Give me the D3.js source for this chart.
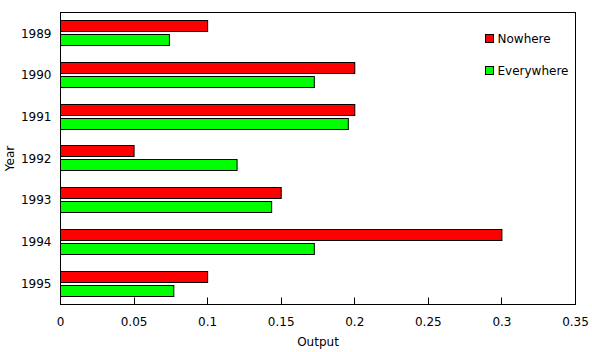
<!DOCTYPE html>
<html>
<head>
<meta charset="utf-8">
<script src="https://cdn.jsdelivr.net/npm/d3@7"></script>
<style>
  body { margin: 0; background: #fff; }
  text { font-family: "DejaVu Sans", sans-serif; fill: #000; }
</style>
</head>
<body>
<div id="chart"></div>
<script>
const years = ["1989", "1990", "1991", "1992", "1993", "1994", "1995"];
const seriesNames = ["Nowhere", "Everywhere"];
const seriesColors = ["#ff0000", "#00ff00"];
const nowhere = [0.1, 0.2, 0.2, 0.05, 0.15, 0.3, 0.1];
const everywhere = [0.074, 0.1725, 0.1956, 0.12, 0.1435, 0.1725, 0.077];
const xTicks = [0, 0.05, 0.1, 0.15, 0.2, 0.25, 0.3, 0.35];

const width = 592, height = 352;
const margin = {top: 12.5, right: 16.5, bottom: 47.5, left: 60.5};
const innerW = width - margin.left - margin.right;
const innerH = height - margin.top - margin.bottom;

const svg = d3.select("#chart").append("svg")
  .attr("width", width)
  .attr("height", height);

const g = svg.append("g")
  .attr("transform", `translate(${margin.left},${margin.top})`);

const x = d3.scaleLinear().domain([0, 0.35]).range([0, innerW]);
const y = d3.scaleBand().domain(years).range([0, innerH]).paddingInner(0.4).paddingOuter(0.2);
const sub = d3.scaleBand().domain(seriesNames).range([0, y.bandwidth()]).paddingInner(0.214);

const rows = years.map((yr, i) => ({year: yr, values: [nowhere[i], everywhere[i]]}));

const groups = g.selectAll(".yr")
  .data(rows)
  .enter().append("g")
  .attr("transform", d => `translate(0,${Math.round(y(d.year))})`);

groups.selectAll("rect")
  .data(d => d.values.map((v, j) => ({name: seriesNames[j], value: v, color: seriesColors[j]})))
  .enter().append("rect")
  .attr("x", x(0))
  .attr("y", d => Math.round(sub(d.name)))
  .attr("width", d => x(d.value) - x(0))
  .attr("height", Math.round(sub.bandwidth()))
  .attr("fill", d => d.color)
  .attr("stroke", "#000")
  .attr("stroke-width", 1);

// frame
g.append("rect")
  .attr("x", 0).attr("y", 0)
  .attr("width", innerW).attr("height", innerH)
  .attr("fill", "none")
  .attr("stroke", "#000")
  .attr("stroke-width", 1);

// x ticks (inward) and labels
g.selectAll(".xtick")
  .data(xTicks)
  .enter().append("line")
  .attr("x1", d => Math.round(x(d)))
  .attr("x2", d => Math.round(x(d)))
  .attr("y1", innerH)
  .attr("y2", innerH - 7)
  .attr("stroke", "#000");

g.selectAll(".xlab")
  .data(xTicks)
  .enter().append("text")
  .attr("x", d => x(d))
  .attr("y", innerH + 21)
  .attr("text-anchor", "middle")
  .style("font-size", "12px")
  .text(d => d3.format("")(d));

// y labels
g.selectAll(".ylab")
  .data(years)
  .enter().append("text")
  .attr("x", -9)
  .attr("y", d => y(d) + y.bandwidth() / 2)
  .attr("dy", "0.35em")
  .attr("text-anchor", "end")
  .style("font-size", "12px")
  .text(d => d);

// axis titles
svg.append("text")
  .attr("x", margin.left + innerW / 2)
  .attr("y", 346)
  .attr("text-anchor", "middle")
  .style("font-size", "12px")
  .text("Output");

svg.append("text")
  .attr("transform", `translate(14,${margin.top + innerH / 2}) rotate(-90)`)
  .attr("text-anchor", "middle")
  .style("font-size", "12px")
  .text("Year");

// legend
const legend = svg.append("g").attr("transform", "translate(485.5,34.5)");
seriesNames.forEach((name, i) => {
  const item = legend.append("g").attr("transform", `translate(0,${i * 32})`);
  item.append("rect")
    .attr("width", 8).attr("height", 8)
    .attr("fill", seriesColors[i])
    .attr("stroke", "#000");
  item.append("text")
    .attr("x", 12)
    .attr("y", 4)
    .attr("dy", "0.35em")
    .style("font-size", "12px")
    .text(name);
});
</script>
</body>
</html>
